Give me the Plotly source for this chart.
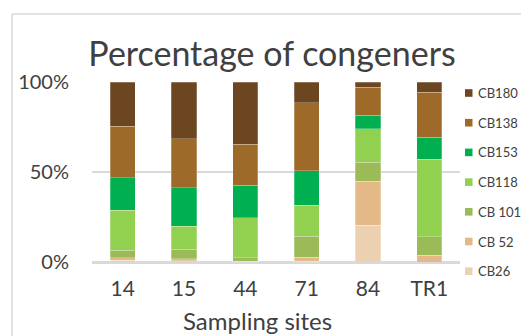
import plotly.graph_objects as go

sites = ["14", "15", "44", "71", "84", "TR1"]

# congener shares (%) per site, bottom of the stack first
cb26 = [1.0, 0.6, 0.1, 0.4, 20.4, 0.0]
cb52 = [1.3, 1.2, 0.3, 2.2, 24.4, 3.7]
cb101 = [4.3, 5.2, 1.9, 11.7, 10.7, 10.2]
cb118 = [22.2, 12.8, 22.2, 17.2, 18.5, 43.1]
cb153 = [18.1, 21.5, 18.1, 19.1, 7.4, 12.2]
cb138 = [28.5, 27.2, 22.8, 38.0, 15.7, 25.0]
cb180 = [24.6, 31.5, 34.6, 11.4, 2.9, 5.8]

series = [
    ("CB26", cb26, "#EBD1B2"),
    ("CB 52", cb52, "#E2B987"),
    ("CB 101", cb101, "#9BBB59"),
    ("CB118", cb118, "#92D050"),
    ("CB153", cb153, "#00B050"),
    ("CB138", cb138, "#9E6A2A"),
    ("CB180", cb180, "#6B4620"),
]

FONT = "Lato, 'Open Sans', sans-serif"
TXT = "#404040"
GRID = "#D9D9D9"

fig = go.Figure()
for name, vals, col in series:
    fig.add_trace(go.Bar(
        x=sites, y=vals, name=name, showlegend=False,
        marker=dict(color=col, line=dict(color="rgba(255,255,255,0.5)", width=0.5)),
    ))

W, H = 521, 336
L, R, T, B = 92, 61, 82, 74
pw, ph = W - L - R, H - T - B

def px_x(p):
    return (p - L) / pw

def px_y(p):
    return (H - B - p) / ph

shapes = [
    # outer chart frame (left and top edges)
    dict(type="line", xref="paper", yref="paper",
         x0=px_x(12), x1=px_x(12), y0=px_y(14), y1=px_y(H + 5),
         line=dict(color=GRID, width=1.5)),
    dict(type="line", xref="paper", yref="paper",
         x0=px_x(12), x1=px_x(W + 5), y0=px_y(14), y1=px_y(14),
         line=dict(color=GRID, width=1.5)),
]
annotations = [
    dict(text="Sampling sites", xref="paper", yref="paper",
         x=px_x(257), y=px_y(320), xanchor="center", yanchor="middle",
         showarrow=False, borderpad=0,
         font=dict(size=24, color=TXT, family=FONT)),
]

# side legend, top entry is the top of the stack
for i, (name, _, col) in enumerate(reversed(series)):
    cy = 93 + i * 29.7
    shapes.append(dict(type="rect", xref="paper", yref="paper",
                       x0=px_x(465), x1=px_x(472.5), y0=px_y(cy - 3.8), y1=px_y(cy + 3.8),
                       fillcolor=col, line=dict(width=0)))
    annotations.append(dict(text=name, xref="paper", yref="paper",
                            x=px_x(476), y=px_y(cy), xanchor="left", yanchor="middle",
                            showarrow=False, font=dict(size=13, color=TXT, family=FONT)))

fig.update_layout(
    width=W, height=H,
    margin=dict(l=L, r=R, t=T, b=B, autoexpand=False),
    barmode="stack", bargap=0.59,
    plot_bgcolor="white", paper_bgcolor="white",
    font=dict(family=FONT, color=TXT),
    showlegend=False,
    title=dict(text="Percentage of congeners", x=272 / W, xanchor="center",
               y=1 - 54 / H, yanchor="middle", yref="container",
               font=dict(size=34, color=TXT, family=FONT)),
    xaxis=dict(tickfont=dict(size=21, color=TXT), ticklabelstandoff=7,
               showline=True, linecolor=GRID, linewidth=1.5, showgrid=False),
    yaxis=dict(range=[0, 100], tickvals=[0, 50, 100], ticktext=["0%", "50%", "100%"],
               tickfont=dict(size=20, color=TXT), ticklabelstandoff=22,
               showgrid=True, gridcolor=GRID, gridwidth=1.5,
               zeroline=True, zerolinecolor=GRID, zerolinewidth=1.5, showline=False),
    shapes=shapes,
    annotations=annotations,
)

fig.write_html("out.html")
